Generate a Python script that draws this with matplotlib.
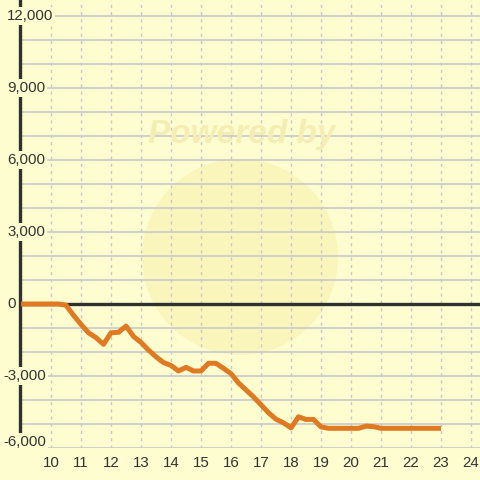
import matplotlib
matplotlib.use("Agg")
import matplotlib.pyplot as plt
from matplotlib.patches import Circle
import numpy as np

hours = [9.0, 9.25, 9.5, 9.75, 10.0, 10.25, 10.5, 10.75, 11.0, 11.25, 11.5, 11.75,
         12.0, 12.25, 12.5, 12.75, 13.0, 13.25, 13.5, 13.75, 14.0, 14.25, 14.5, 14.75,
         15.0, 15.25, 15.5, 15.75, 16.0, 16.25, 16.5, 16.75, 17.0, 17.25, 17.5, 17.75,
         18.0, 18.25, 18.5, 18.75, 19.0, 19.25, 19.5, 19.75, 20.0, 20.25, 20.5, 20.75,
         21.0, 21.25, 21.5, 21.75, 22.0, 22.25, 22.5, 22.75, 23.0]
values = [0, 0, 0, 0, 0, 0, -50, -470, -850, -1200, -1400, -1680,
          -1200, -1180, -920, -1350, -1600, -1920, -2200, -2440, -2560, -2790, -2640, -2790,
          -2790, -2470, -2470, -2680, -2900, -3290, -3580, -3870, -4200, -4530, -4800, -4950,
          -5160, -4700, -4810, -4810, -5120, -5180, -5180, -5180, -5180, -5180, -5090, -5110,
          -5180, -5180, -5180, -5180, -5180, -5180, -5180, -5180, -5180]

x_ticks = list(range(10, 25))
y_ticks = [12000, 9000, 6000, 3000, 0, -3000, -6000]
y_minor = list(range(-6000, 12001, 1000))

bg = "#fdfdd0"
fig = plt.figure(figsize=(4.8, 4.8), dpi=100, facecolor=bg)
W = H = 480.0
ax = fig.add_axes([19.5 / W, 32 / H, 460.5 / W, 448 / H])
ax.set_facecolor(bg)
ax.set_xlim(8.95, 24.3)
ax.set_ylim(-6000, 12667)

# watermark
circ = Circle((240 / W, 223 / H), 98 / W, transform=fig.transFigure,
              facecolor="#f7ec9c", edgecolor="none", alpha=0.4, zorder=0.5)
ax.add_artist(circ)
fig.text(242 / W, 346 / H, "Powered by", ha="center", va="center",
         fontsize=24, fontweight="bold", fontstyle="italic",
         color="#f5eeb4", family="Liberation Sans", zorder=0.6)

for y in y_minor:
    ax.axhline(y, color="#c8c8cc", lw=1.2, zorder=1)
for x in x_ticks:
    ax.axvline(x, color="#c8c8cc", lw=1.0, ls=(0, (2.2, 3)), zorder=1)

ax.axhline(0, color="#303030", lw=2.4, zorder=2)
ax.plot(hours, values, color="#e07a22", lw=3.6, solid_joinstyle="round",
        solid_capstyle="butt", zorder=3)

for s in ["top", "right", "bottom"]:
    ax.spines[s].set_visible(False)
ax.spines["left"].set_color("#303030")
ax.spines["left"].set_linewidth(2.4)
ax.spines["left"].set_zorder(2)

ax.set_xticks(x_ticks)
ax.set_xticklabels([str(v) for v in x_ticks])
ax.tick_params(axis="x", length=0, pad=6, labelsize=10.8, labelcolor="#333333")
for lab in ax.get_xticklabels():
    lab.set_family("Liberation Sans")
ax.set_yticks([])

trans = ax.get_yaxis_transform()
for v in y_ticks:
    txt = f"{v:,}"
    dy = 0
    if v == -6000:
        dy = 6 * 1000 / 24.0
    xpos = (7 - 19.5) / 460.5 if v >= 0 else (3 - 19.5) / 460.5
    ax.text(xpos, v + dy, txt, transform=trans, ha="left", va="center",
            fontsize=10.8, color="#333333", family="Liberation Sans",
            bbox=dict(boxstyle="square,pad=0.12", facecolor=bg, edgecolor="none"),
            clip_on=False, zorder=4)

fig.savefig("out.png", dpi=100, facecolor=bg)
